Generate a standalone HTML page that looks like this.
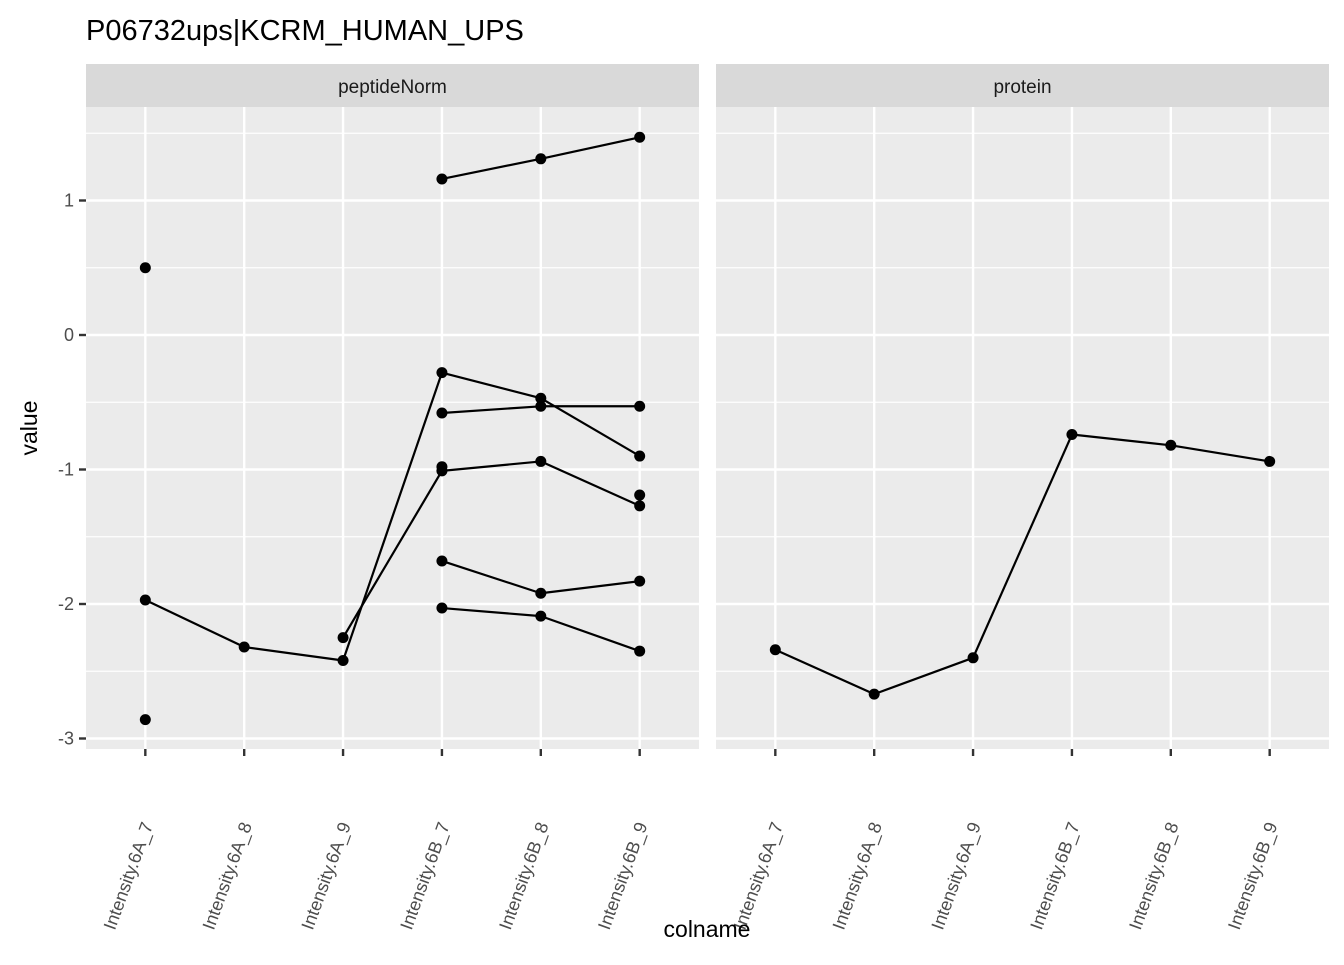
<!DOCTYPE html>
<html><head><meta charset="utf-8"><style>body{margin:0;background:#fff}svg{font-family:"Liberation Sans",sans-serif}</style></head>
<body>
<svg id="c" width="1344" height="960"></svg>
<script>
const categories=["Intensity.6A_7","Intensity.6A_8","Intensity.6A_9","Intensity.6B_7","Intensity.6B_8","Intensity.6B_9"];
const yTicks=[1,0,-1,-2,-3];
const yTickLabels=["1","0","-1","-2","-3"];
const pepA=[-1.97,-2.32,-2.42,-0.28,-0.47,-0.90];
const pepB=[null,null,-2.25,-1.01,-0.94,-1.27];
const pepC=[0.5,null,null,null,null,null];
const pepD=[-2.86,null,null,null,null,null];
const pepE=[null,null,null,1.16,1.31,1.47];
const pepF=[null,null,null,-0.58,-0.53,-0.53];
const pepG=[null,null,null,-0.98,null,-1.19];
const pepH=[null,null,null,-1.68,-1.92,-1.83];
const pepI=[null,null,null,-2.03,-2.09,-2.35];
const protein=[-2.34,-2.67,-2.40,-0.74,-0.82,-0.94];
const peptides=[pepA,pepB,pepC,pepD,pepE,pepF,pepG,pepH,pepI];

const svg=document.getElementById('c');const NS="http://www.w3.org/2000/svg";
function mk(t,a,p,txt){const e=document.createElementNS(NS,t);for(const k in a)e.setAttribute(k,a[k]);if(txt!=null)e.textContent=txt;(p||svg).appendChild(e);return e;}
const topY=107,botY=749;
const yScale=v=>335-v*134.5;
const panels=[{x0:86,x1:699,name:"peptideNorm",series:peptides},{x0:716,x1:1329,name:"protein",series:[protein]}];
let t=mk('text',{x:86,y:40,'font-size':29,fill:'#000'},null,"P06732ups|KCRM_HUMAN_UPS");


panels.forEach((p,pi)=>{
  const w=p.x1-p.x0,step=w/6.2;
  const xScale=i=>p.x0+step*(0.6+i);
  const g=mk('g',{});
  
  
  mk('rect',{x:p.x0,y:topY,width:w,height:botY-topY,fill:'#ebebeb'},g);
  const s=mk('rect',{x:p.x0,y:64,width:w,height:43,fill:'#d9d9d9'},g);
  
  
  mk('text',{x:(p.x0+p.x1)/2,y:93,'text-anchor':'middle','font-size':19,fill:'#1a1a1a'},g,p.name);
  for(let v=1.5;v>-3.1;v-=1)mk('line',{x1:p.x0,x2:p.x1,y1:yScale(v),y2:yScale(v),stroke:'#fff','stroke-width':1.2},g);
  yTicks.forEach(v=>mk('line',{x1:p.x0,x2:p.x1,y1:yScale(v),y2:yScale(v),stroke:'#fff','stroke-width':2.4},g));
  categories.forEach((c,i)=>{
    mk('line',{x1:xScale(i),x2:xScale(i),y1:topY,y2:botY,stroke:'#fff','stroke-width':2.4},g);
    mk('line',{x1:xScale(i),x2:xScale(i),y1:botY,y2:botY+7,stroke:'#333','stroke-width':2.4},g);
    const lx=xScale(i)+8,ly=botY+76;
    const l=mk('text',{x:lx,y:ly,'text-anchor':'end','font-size':18,fill:'#4d4d4d',transform:`rotate(-70 ${lx} ${ly})`},g,c);
    
    
  });
  p.series.forEach(sr=>{
    for(let i=0;i<5;i++)if(sr[i]!=null&&sr[i+1]!=null)mk('line',{x1:xScale(i),y1:yScale(sr[i]),x2:xScale(i+1),y2:yScale(sr[i+1]),stroke:'#000','stroke-width':2.2},g);
    sr.forEach((v,i)=>{if(v!=null){const d=mk('circle',{cx:xScale(i),cy:yScale(v),r:5.5,fill:'#000'},g);
      
      }});
  });
});
yTicks.forEach((v,i)=>{mk('line',{x1:79,x2:86,y1:yScale(v),y2:yScale(v),stroke:'#333','stroke-width':2.4});
  const l=mk('text',{x:74,y:yScale(v)+6,'text-anchor':'end','font-size':18,fill:'#4d4d4d'},null,yTickLabels[i]);
  
  });
t=mk('text',{x:37,y:428,'text-anchor':'middle','font-size':23,fill:'#000',transform:'rotate(-90 37 428)'},null,'value');


t=mk('text',{x:707,y:937,'text-anchor':'middle','font-size':23,fill:'#000'},null,'colname');


</script>
</body></html>
